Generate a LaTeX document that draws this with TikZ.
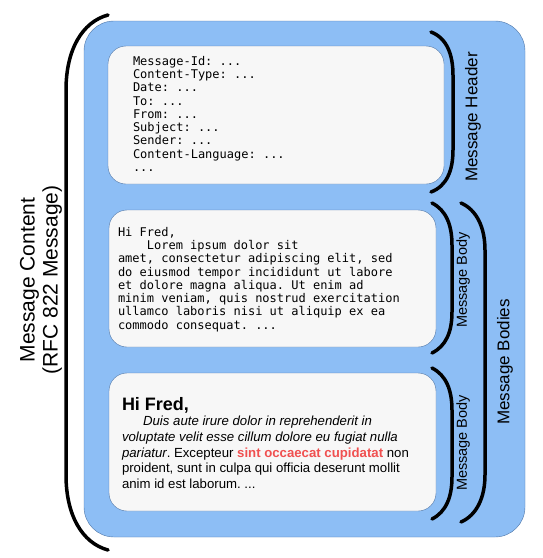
\documentclass[tikz,border=0pt]{standalone}
\usepackage{fontspec}
\setmainfont{Liberation Sans}
\newfontfamily\codefont{DejaVu Sans Mono}
\usetikzlibrary{positioning}
\definecolor{msgblue}{RGB}{141,190,245}
\definecolor{msgedge}{RGB}{78,118,168}
\definecolor{panelgray}{RGB}{247,247,247}
\definecolor{hotred}{RGB}{240,80,80}
\tikzset{
  panel/.style={draw=msgedge,fill=panelgray,rounded corners=18,inner sep=0},
  paren/.style={line width=3.5pt,line cap=round},
  sidelabel/.style={rotate=90,inner sep=0},
  codetext/.style={anchor=north west,inner sep=0,align=left,font=\codefont\fontsize{12}{13.3}\selectfont}
}
\frenchspacing
\begin{document}
\begin{tikzpicture}[x=1pt,y=-1pt]
\useasboundingbox (0,0) rectangle (543,558);
\node[draw=msgedge,fill=msgblue,rounded corners=30,minimum width=441,minimum height=516,inner sep=0] (content) at (304.5,279) {};
\node[panel,minimum width=336,minimum height=138] (header) at (276,115) {};
\node[panel,minimum width=327,minimum height=137] (bodyA) at (272.5,278.5) {};
\node[panel,minimum width=327,minimum height=138] (bodyB) at (272.5,442) {};
% texts inside the panels
\node[codetext] (headertxt) at ([xshift=25,yshift=-10]header.north west) {Message-Id: ...\\Content-Type: ...\\Date: ...\\To: ...\\From: ...\\Subject: ...\\Sender: ...\\Content-Language: ...\\...};
\node[codetext] (bodyAtxt) at ([xshift=9,yshift=-17]bodyA.north west) {Hi Fred,\\\hspace*{4\fontcharwd\font`0}Lorem ipsum dolor sit\\amet, consectetur adipiscing elit, sed\\do eiusmod tempor incididunt ut labore\\et dolore magna aliqua. Ut enim ad\\minim veniam, quis nostrud exercitation\\ullamco laboris nisi ut aliquip ex ea\\commodo consequat. ...};
\node[anchor=north west,inner sep=0,font=\bfseries\fontsize{18}{20}\selectfont] (bodyBhi) at ([xshift=13,yshift=-24]bodyB.north west) {Hi Fred,};
\node[anchor=north west,inner sep=0,align=left,font=\fontsize{13.2}{15.6}\selectfont] (bodyBtxt) at ([yshift=-3]bodyBhi.south west) {\hspace*{1.6em}\textit{Duis aute irure dolor in reprehenderit in}\\\textit{voluptate velit esse cillum dolore eu fugiat nulla}\\\textit{pariatur}. Excepteur \textcolor{hotred}{\bfseries sint occaecat cupidatat} non\\proident, sunt in culpa qui officia deserunt mollit\\anim id est laborum. ...};
% parentheses
\draw[paren] (108,15) .. controls (82,22) and (66,50) .. (66,90) -- (66,475) .. controls (66,515) and (82,543) .. (108,550);
\draw[paren] (431,32) .. controls (447,38) and (453,55) .. (453,75) -- (453,150) .. controls (453,170) and (447,186) .. (431,192);
\draw[paren] (432,203) .. controls (446,210) and (452,225) .. (452,245) -- (452,312) .. controls (452,332) and (446,346) .. (432,353);
\draw[paren] (432,368) .. controls (446,375) and (452,390) .. (452,410) -- (452,477) .. controls (452,497) and (446,512) .. (432,519);
\draw[paren] (461,203) .. controls (477,210) and (485,228) .. (485,250) -- (485,475) .. controls (485,497) and (477,515) .. (461,522);
% labels
\node[sidelabel,font=\fontsize{21}{23}\selectfont,align=center] (contentlbl) at (41,280) {Message Content\\(RFC 822 Message)};
\node[sidelabel,font=\fontsize{17}{19}\selectfont] (headerlbl) at (473,117) {Message Header};
\node[sidelabel,font=\fontsize{14.5}{16}\selectfont] (bodyAlbl) at (463,280) {Message Body};
\node[sidelabel,font=\fontsize{14.5}{16}\selectfont] (bodyBlbl) at (463,443) {Message Body};
\node[sidelabel,font=\fontsize{17}{19}\selectfont] (bodieslbl) at (505,362) {Message Bodies};
\end{tikzpicture}
\end{document}
